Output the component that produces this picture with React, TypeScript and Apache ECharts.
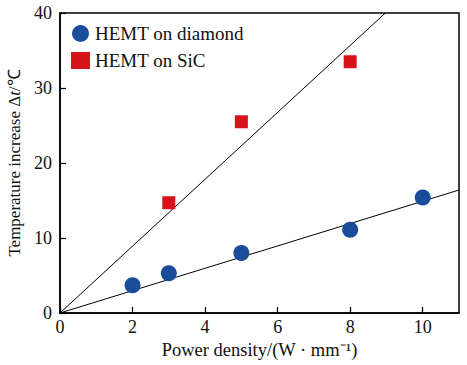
import React, { useEffect, useRef } from "react";
import * as echarts from "echarts";

const diamondData: [number, number][] = [
  [2, 3.7],
  [3, 5.3],
  [5, 8.0],
  [8, 11.1],
  [10, 15.4],
];
const sicData: [number, number][] = [
  [3, 14.7],
  [5, 25.5],
  [8, 33.5],
];
const diamondFit: [number, number][] = [
  [0, 0],
  [11, 16.4],
];
const sicFit: [number, number][] = [
  [0, 0],
  [8.97, 40],
];
const seriesNames = ["HEMT on diamond", "HEMT on SiC"];

const FONT = "Liberation Serif";

export default function App() {
  const ref = useRef<HTMLDivElement>(null);
  useEffect(() => {
    if (!ref.current) return;
    const chart = echarts.init(ref.current, null, { renderer: "svg" });
    chart.setOption({
      animation: false,
      backgroundColor: "#fff",
      textStyle: { fontFamily: FONT },
      grid: {
        left: 60,
        right: 8,
        top: 13,
        bottom: 52,
        containLabel: false,
        outerBoundsMode: "none",
        show: true,
        borderColor: "#000",
        borderWidth: 1.5,
      },
      legend: {
        orient: "vertical",
        left: 66,
        top: 19,
        itemGap: 8,
        itemWidth: 19,
        itemHeight: 17,
        textStyle: { fontFamily: FONT, fontSize: 19, color: "#111" },
        data: [
          { name: seriesNames[0], icon: "circle" },
          { name: seriesNames[1], icon: "rect" },
        ],
      },
      xAxis: {
        type: "value",
        min: 0,
        max: 11,
        interval: 2,
        name: "Power density/(W · mm⁻¹)",
        nameLocation: "middle",
        nameGap: 27,
        nameTextStyle: { fontFamily: FONT, fontSize: 18.5, color: "#111" },
        axisLine: { show: true, lineStyle: { color: "#000", width: 1.5 } },
        axisTick: { show: true, inside: true, length: 6, lineStyle: { color: "#000", width: 1.2 } },
        axisLabel: {
          fontFamily: FONT,
          fontSize: 18,
          color: "#111",
          margin: 5,
          showMaxLabel: false,
        },
        splitLine: { show: false },
      },
      yAxis: {
        type: "value",
        min: 0,
        max: 40,
        interval: 10,
        name: "Temperature increase Δ{i|t}/℃",
        nameLocation: "middle",
        nameGap: 36,
        nameTextStyle: {
          fontFamily: FONT,
          fontSize: 17,
          color: "#111",
          rich: { i: { fontStyle: "italic", fontFamily: FONT, fontSize: 17, color: "#111" } },
        },
        axisLine: { show: true, lineStyle: { color: "#000", width: 1.5 } },
        axisTick: { show: true, inside: true, length: 6, lineStyle: { color: "#000", width: 1.2 } },
        axisLabel: { fontFamily: FONT, fontSize: 18, color: "#111", margin: 8 },
        splitLine: { show: false },
      },
      series: [
        {
          name: "fitDiamond",
          type: "line",
          data: diamondFit,
          symbol: "none",
          lineStyle: { color: "#000", width: 1 },
          silent: true,
          z: 1,
        },
        {
          name: "fitSiC",
          type: "line",
          data: sicFit,
          symbol: "none",
          lineStyle: { color: "#000", width: 1 },
          silent: true,
          z: 1,
        },
        {
          name: seriesNames[0],
          type: "scatter",
          data: diamondData,
          symbol: "circle",
          symbolSize: 16,
          itemStyle: { color: "#1b4c9c", opacity: 1 },
          z: 3,
        },
        {
          name: seriesNames[1],
          type: "scatter",
          data: sicData,
          symbol: "rect",
          symbolSize: 13,
          itemStyle: { color: "#d6121b", opacity: 1 },
          z: 3,
        },
      ],
    });
    return () => chart.dispose();
  }, []);
  return (
    <div
      ref={ref}
      style={{ position: "fixed", left: 0, top: 0, width: 467, height: 365, background: "#fff" }}
    />
  );
}
